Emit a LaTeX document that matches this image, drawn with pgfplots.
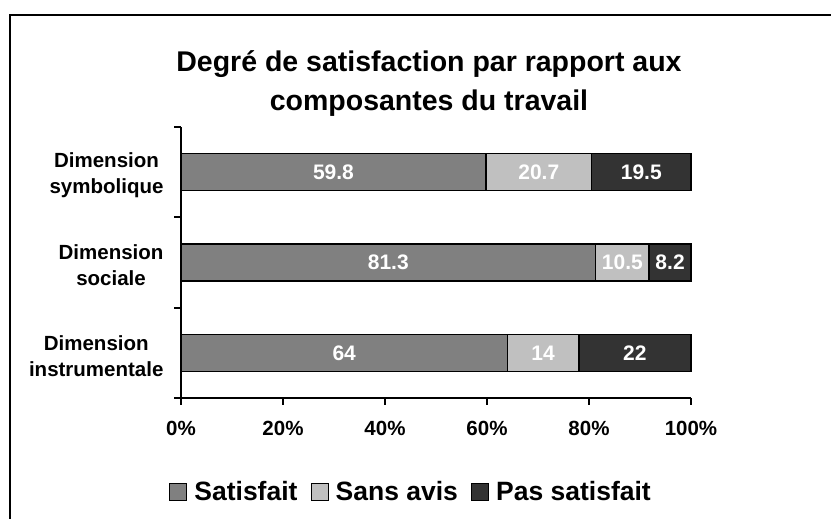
\documentclass[border=0pt]{standalone}
\usepackage{fontspec}
\setmainfont{Liberation Sans}
\usepackage{pgfplots}
\usepackage{pgfplotstable}
\pgfplotsset{compat=1.18}
\definecolor{cSat}{HTML}{808080}
\definecolor{cSans}{HTML}{C0C0C0}
\definecolor{cPas}{HTML}{333333}
\pgfplotsset{sqlegend/.style={legend image code/.code={\draw[##1, line width=1.2pt] (0pt,-8.5pt) rectangle (17pt,8.5pt);}}}
% y: 0 = instrumentale, 1 = sociale, 2 = symbolique
\pgfplotstableread{
y sat sans pas
0 64 14 22
1 81.3 10.5 8.2
2 59.8 20.7 19.5
}\data
\begin{document}
\begin{tikzpicture}
\useasboundingbox (0,0) rectangle (831pt,519pt);
% chart area frame (only left and top edges are in the crop)
\draw[line width=2.5pt] (10pt,0pt) -- (10pt,504pt) -- (831pt,504pt);
\node[anchor=base, font=\fontsize{28.5}{33}\selectfont\bfseries] at (429pt,447pt) {Degré de satisfaction par rapport aux};
\node[anchor=base, font=\fontsize{28.5}{33}\selectfont\bfseries] at (429pt,408pt) {composantes du travail};
\pgfplotsset{frame/.style={
  at={(181pt,121pt)}, anchor=south west,
  scale only axis, width=510pt, height=271pt,
  xmin=0, xmax=100, ymin=-0.5, ymax=2.5}}
\begin{axis}[
  frame,
  xbar stacked, bar width=37pt,
  axis lines*=left,
  axis line style={line width=1.8pt},
  tick align=outside, major tick length=7pt,
  every tick/.style={black, line width=1.8pt},
  xtick={0,20,40,60,80,100},
  xticklabels={0\%,20\%,40\%,60\%,80\%,100\%},
  x tick label style={font=\fontsize{20.5}{24}\selectfont\bfseries, yshift=-13pt},
  ytick={-0.5,0.5,1.5,2.5}, yticklabels={},
  extra y ticks={0,1,2},
  extra y tick labels={{Dimension\\instrumentale},{Dimension\\sociale},{Dimension\\symbolique}},
  extra y tick style={major tick length=0pt,
    tick label style={align=center, font=\fontsize{20.5}{26}\selectfont\bfseries, xshift=-14pt, yshift=-3pt}},
  clip=false,
  legend columns=3,
  legend style={draw=none, fill=none, at={(-0.0235,-0.347)}, anchor=west,
    inner sep=0pt, nodes={inner sep=0pt},
    font=\fontsize{26.5}{30}\selectfont\bfseries,
    /tikz/every odd column/.style={column sep=7pt},
    /tikz/every even column/.style={column sep=13pt}},
]
\addplot[fill=cSat, draw=black, line width=1.5pt, sqlegend] table[x=sat, y=y] {\data};
\addplot[fill=cSans, draw=black, line width=1.5pt, sqlegend] table[x=sans, y=y] {\data};
\addplot[fill=cPas, draw=black, line width=1.5pt, sqlegend] table[x=pas, y=y] {\data};
\legend{Satisfait, Sans avis, Pas satisfait}
\end{axis}
% value labels, centred in each segment
\begin{axis}[
  frame, hide axis, clip=false,
  every node near coord/.style={anchor=center, text=white,
    font=\fontsize{21}{24}\selectfont\bfseries},
  lbl/.style={only marks, mark=none, draw=none,
    nodes near coords, point meta=explicit symbolic},
]
\addplot[lbl] table[x expr=\thisrow{sat}/2, y=y, meta=sat] {\data};
\addplot[lbl] table[x expr=\thisrow{sat}+\thisrow{sans}/2, y=y, meta=sans] {\data};
\addplot[lbl] table[x expr=\thisrow{sat}+\thisrow{sans}+\thisrow{pas}/2, y=y, meta=pas] {\data};
\end{axis}
\end{tikzpicture}
\end{document}
